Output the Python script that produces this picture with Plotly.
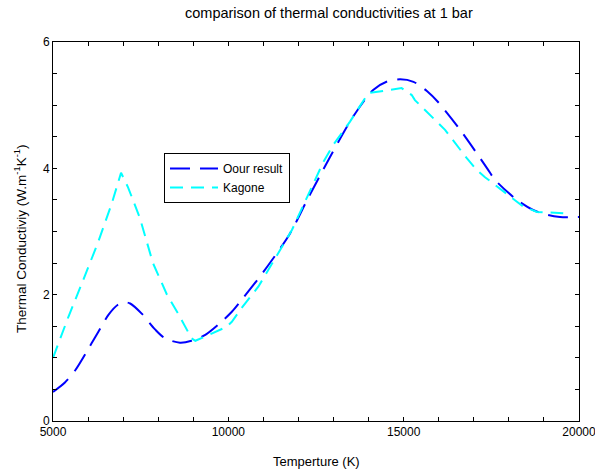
import plotly.graph_objects as go

# ---- data ----
our_T = [5000, 5340, 5630, 6100, 6290, 6580, 6850, 7030, 7200, 7530, 7910, 8190,
         8620, 8950, 9330, 9760, 10100, 10380, 11000, 11760, 12230, 12900, 13560,
         14130, 14510, 14900, 15280, 15670, 15980, 16610, 17380, 17600, 18230,
         18690, 19120, 19460, 20000]
our_k = [0.46, 0.61, 0.80, 1.23, 1.41, 1.68, 1.84, 1.88, 1.86, 1.70, 1.45, 1.31,
         1.24, 1.27, 1.36, 1.55, 1.73, 1.92, 2.36, 2.97, 3.48, 4.18, 4.82,
         5.24, 5.37, 5.41, 5.37, 5.22, 5.05, 4.61, 4.00, 3.82, 3.50,
         3.34, 3.26, 3.23, 3.23]

kag_T = [5000, 5440, 5860, 6280, 6680, 6940, 7140, 7480, 7850, 8250, 8570, 8950,
         9060, 9950, 10100, 10380, 10860, 11520, 11810, 12710, 12990, 13330, 13470,
         13990, 14230, 14700, 14940, 15230, 15320, 16180, 16380, 16610, 16800,
         17090, 17320, 18230, 18400, 18800, 19550]
kag_k = [1.00, 1.65, 2.23, 2.82, 3.45, 3.93, 3.70, 3.21, 2.50, 2.00, 1.70, 1.31,
         1.27, 1.49, 1.57, 1.79, 2.13, 2.76, 3.02, 4.10, 4.37, 4.63, 4.74,
         5.19, 5.21, 5.25, 5.27, 5.16, 5.08, 4.61, 4.46, 4.29, 4.16,
         3.97, 3.86, 3.47, 3.40, 3.31, 3.29]

x_tickvals = [5000, 10000, 15000, 20000]
x_ticktext = ["5000", "10000", "15000", "20000"]
x_minor = list(range(5000, 20001, 1000))
y_tickvals = [0, 2, 4, 6]
y_ticktext = ["0", "2", "4", "6"]
y_minor = [i * 0.5 for i in range(13)]

series_names = ["Oour result", "Kagone"]
title_text = "comparison of thermal conductivities at 1 bar"
x_title = "Temperture (K)"
y_title = "Thermal Conductiviy (W.m<sup>-1</sup>K<sup>-1</sup>)"

FONT = "Liberation Sans, Arial, Helvetica, sans-serif"

# plot-area geometry (pixels)
L, R, T, B = 53, 579, 42, 421
W, H = 595, 470
PW, PH = R - L, B - T


def px(x):
    return (x - L) / PW


def py(y):
    return (B - y) / PH


fig = go.Figure()
fig.add_trace(go.Scatter(
    x=our_T, y=our_k, mode="lines", name=series_names[0],
    line=dict(color="#0000ff", width=2, dash="20px,10px", shape="spline", smoothing=0.8),
))
fig.add_trace(go.Scatter(
    x=kag_T, y=kag_k, mode="lines", name=series_names[1],
    line=dict(color="#00ffff", width=2, dash="13px,8px"),
))

axis_common = dict(
    showline=True, linecolor="black", linewidth=1, mirror="ticks",
    ticks="inside", ticklen=4, tickcolor="black", tickwidth=1,
    showgrid=False, zeroline=False, automargin=False,
    ticklabeloverflow="allow",
    tickfont=dict(family=FONT, size=12, color="black"),
)

fig.update_layout(
    width=W, height=H,
    margin=dict(l=L, r=W - R, t=T, b=H - B),
    paper_bgcolor="white", plot_bgcolor="white",
    font=dict(family=FONT, size=12, color="black"),
    xaxis=dict(range=[5000, 20000], tickmode="array", tickvals=x_tickvals,
               ticktext=x_ticktext,
               minor=dict(tickmode="array", tickvals=x_minor, ticks="inside",
                          ticklen=4, tickcolor="black", tickwidth=1, showgrid=False),
               **axis_common),
    yaxis=dict(range=[0, 6], tickmode="array", tickvals=y_tickvals,
               ticktext=y_ticktext,
               minor=dict(tickmode="array", tickvals=y_minor, ticks="inside",
                          ticklen=4, tickcolor="black", tickwidth=1, showgrid=False),
               **axis_common),
    legend=dict(x=px(164), y=py(153), xanchor="left", yanchor="top",
                bgcolor="white", bordercolor="black", borderwidth=1,
                font=dict(family=FONT, size=12, color="black"),
                tracegroupgap=0, itemwidth=48,
                entrywidth=80, entrywidthmode="pixels"),
    showlegend=True,
    annotations=[
        dict(text=title_text, xref="paper", yref="paper", x=px(329), y=py(13),
             xanchor="center", yanchor="middle", showarrow=False,
             font=dict(family=FONT, size=14.5, color="black")),
        dict(text=x_title, xref="paper", yref="paper", x=px(316), y=py(461),
             xanchor="center", yanchor="middle", showarrow=False,
             font=dict(family=FONT, size=13, color="black")),
        dict(text=y_title, xref="paper", yref="paper", x=px(20), y=py(239),
             xanchor="center", yanchor="middle", showarrow=False, textangle=-90,
             font=dict(family=FONT, size=13.5, color="black")),
    ],
)

fig.write_html("out.html",
               config={"displayModeBar": False},
               post_script="document.body.style.margin='0';document.body.style.padding='0';")
